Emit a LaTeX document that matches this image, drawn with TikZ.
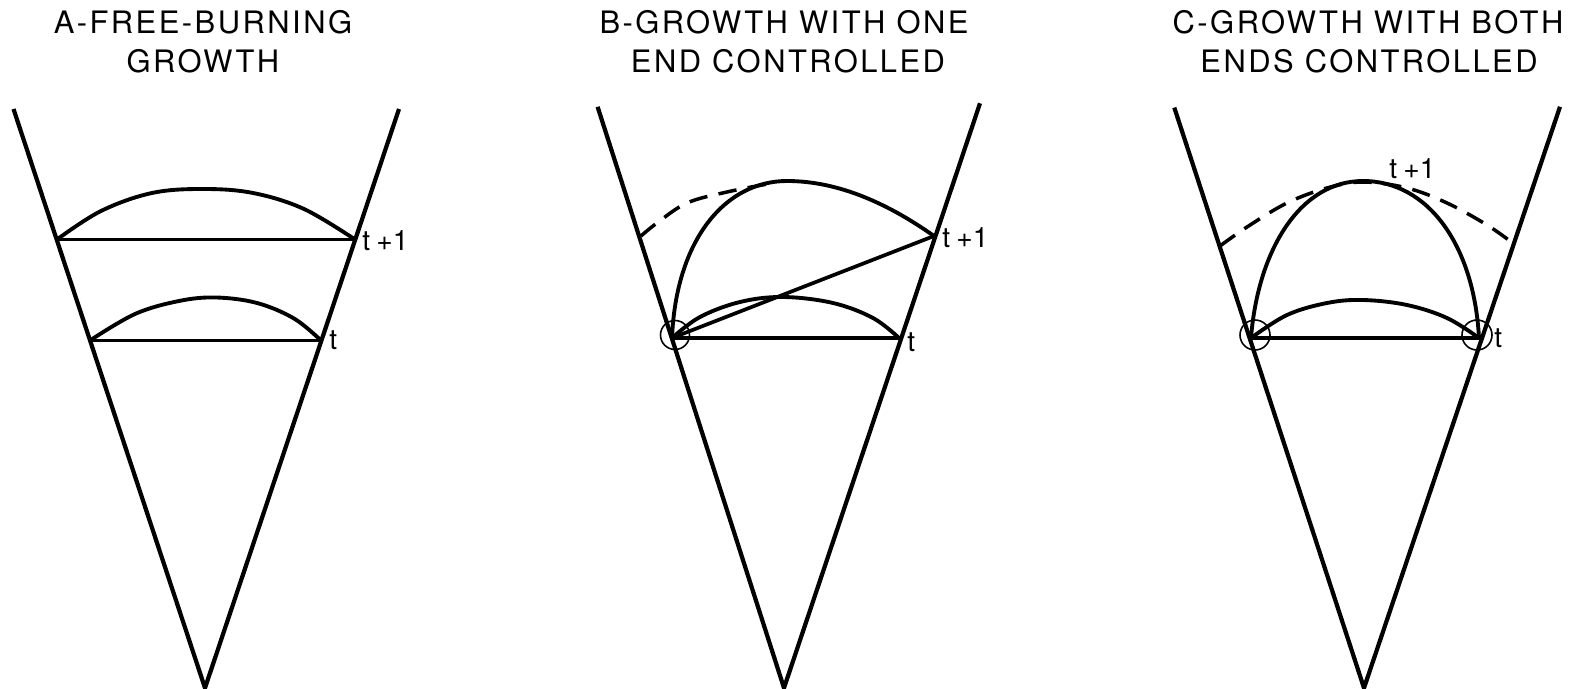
\documentclass[tikz,border=0pt]{standalone}
\usepackage{fontspec}
\setmainfont{TeX Gyre Heros}
\newfontfamily\titlefont[LetterSpace=8]{TeX Gyre Heros}
\begin{document}
\begin{tikzpicture}[x=0.02cm,y=-0.02cm,
  wall/.style={line width=2.4pt,line join=miter},
  front/.style={line width=2.2pt,line cap=round},
  chord/.style={line width=2.1pt},
  ring/.style={line width=0.9pt},
  guess/.style={line width=2.0pt,dash pattern=on 10.5pt off 6.5pt},
  title/.style={font=\titlefont\fontsize{17.6}{21}\selectfont,inner sep=0pt,anchor=center},
  lab/.style={font=\fontsize{16}{19}\selectfont,inner sep=0pt,anchor=west}]
\useasboundingbox (0,0) rectangle (1580,689);
% ---------- Panel A ----------
\coordinate (Atl) at (13.5,109);
\coordinate (Atr) at (399,109);
\coordinate (Aap) at (205,688);
\coordinate (AuL) at (57,239.5);
\coordinate (AuR) at (355,239.5);
\coordinate (AlL) at (90,340.5);
\coordinate (AlR) at (321,340.5);
\draw[wall] (Atl) -- (Aap) -- (Atr);
\draw[chord] (AuL) -- (AuR);
\draw[chord] (AlL) -- (AlR);
\draw[front] plot[smooth,tension=0.6] coordinates {(AuL) (101,211) (152,193) (203,189) (253,193) (304,209) (AuR)};
\draw[front] plot[smooth,tension=0.6] coordinates {(AlL) (135,314) (179,301) (216,297.5) (257,303) (294,318.5) (AlR)};
\node[title] (tA1) at (203,22) {A-FREE-BURNING};
\node[title] (tA2) at (203,61.5) {GROWTH};
\node[lab] (lA1) at (362,241) {t\hspace{0.22em}+1};
\node[lab] (lA0) at (329,340) {t};
% ---------- Panel B ----------
\coordinate (Btl) at (597.6,106.8);
\coordinate (Btr) at (980,103.3);
\coordinate (Bap) at (784,688);
\coordinate (BV) at (672,338);
\coordinate (BR0) at (899,338);
\coordinate (BR1) at (934,236);
\coordinate (BT) at (787,181);
\draw[wall] (Btl) -- (Bap) -- (Btr);
\draw[chord] (BV) -- (BR0);
\draw[chord] (BV) -- (BR1);
\draw[front] plot[smooth,tension=0.6] coordinates {(BV) (700,317) (740,302) (783,297) (833,303) (873,318) (BR0)};
\draw[front] (BV) .. controls (676,240) and (725,181) .. (BT) .. controls (840,181) and (890,205) .. (BR1);
\draw[guess] plot[smooth,tension=0.6] coordinates {(641,236) (657,223) (687,203) (727,192) (773,183)};
\node[draw,circle,ring,inner sep=0pt,minimum size=0.58cm] (cB) at (675,335) {};
\node[title] (tB1) at (784,22) {B-GROWTH WITH ONE};
\node[title] (tB2) at (788,61.5) {END CONTROLLED};
\node[lab] (lB1) at (942,238) {t\hspace{0.22em}+1};
\node[lab] (lB0) at (907,342) {t};
% ---------- Panel C ----------
\coordinate (Ctl) at (1174.3,107.6);
\coordinate (Ctr) at (1560,106.8);
\coordinate (Cap) at (1364,688);
\coordinate (CL) at (1251,338);
\coordinate (CR) at (1479,338);
\coordinate (CT) at (1363,181);
\draw[wall] (Ctl) -- (Cap) -- (Ctr);
\draw[chord] (CL) -- (CR);
\draw[front] plot[smooth,tension=0.6] coordinates {(CL) (1287,315) (1327,303) (1363,300) (1407,305) (1447,318) (CR)};
\draw[front] (CL) .. controls (1258,250) and (1300,181) .. (CT) .. controls (1428,181) and (1474,245) .. (CR);
\draw[guess] plot[smooth,tension=0.6] coordinates {(1220,246) (1247,227) (1287,203) (1327,188) (1363,182) (1407,188) (1447,203) (1487,225) (1514,244)};
\node[draw,circle,ring,inner sep=0pt,minimum size=0.6cm] (cC1) at (1255,335) {};
\node[draw,circle,ring,inner sep=0pt,minimum size=0.6cm] (cC2) at (1477,335) {};
\node[title] (tC1) at (1368,22) {C-GROWTH WITH BOTH};
\node[title] (tC2) at (1369,61.5) {ENDS CONTROLLED};
\node[lab] (lC1) at (1389,169) {t\hspace{0.22em}+1};
\node[lab] (lC0) at (1494,338) {t};
\end{tikzpicture}
\end{document}
